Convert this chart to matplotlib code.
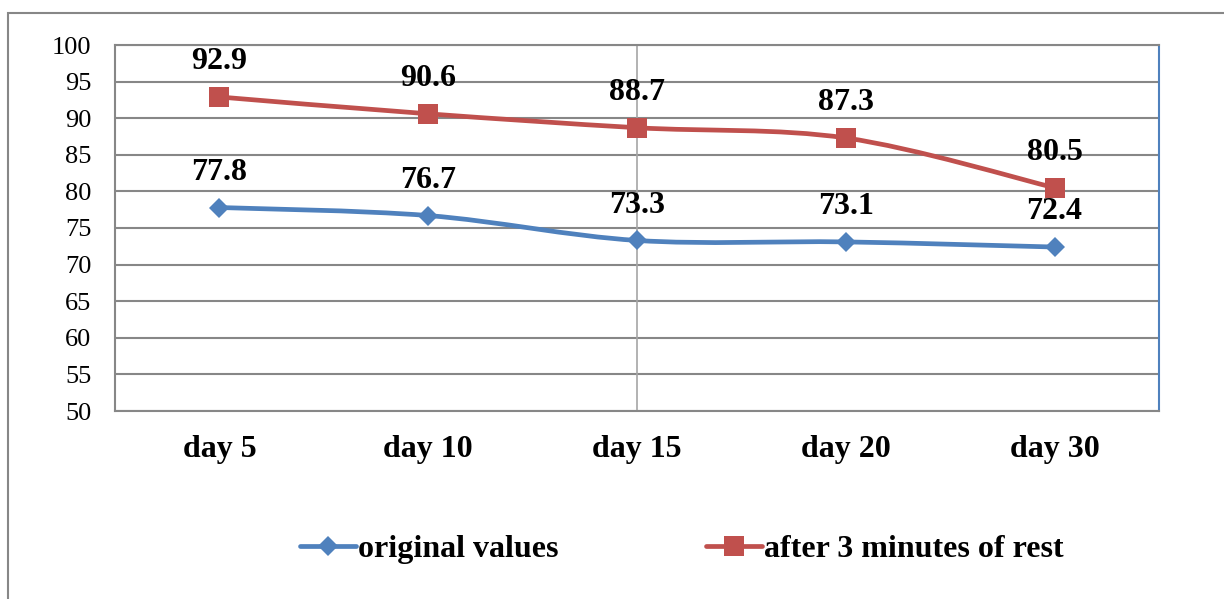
import numpy as np
import matplotlib
matplotlib.use("Agg")
import matplotlib.pyplot as plt
from matplotlib.path import Path
from matplotlib.patches import PathPatch, Rectangle
from matplotlib.lines import Line2D

# Data
categories = ["day 5", "day 10", "day 15", "day 20", "day 30"]
original_values = [77.8, 76.7, 73.3, 73.1, 72.4]
after_rest = [92.9, 90.6, 88.7, 87.3, 80.5]
series_names = ["original values", "after 3 minutes of rest"]
y_ticks = [50, 55, 60, 65, 70, 75, 80, 85, 90, 95, 100]

BLUE = "#4F81BD"
RED = "#C0504D"
GRID = "#878787"

plt.rcParams["font.family"] = ["Liberation Serif", "DejaVu Serif"]

fig = plt.figure(figsize=(12.24, 5.99), dpi=100)
ax = fig.add_axes([115 / 1224, 1 - 411 / 599, (1159 - 115) / 1224, (411 - 45) / 599])

x = np.arange(len(categories))


def smooth_path(xs, ys):
    """Cubic Bezier path through the points (Excel-style smoothed line)."""
    pts = np.column_stack([xs, ys]).astype(float)
    n = len(pts)
    verts = [pts[0]]
    codes = [Path.MOVETO]
    for i in range(n - 1):
        p0 = pts[i - 1] if i > 0 else pts[i]
        p1 = pts[i]
        p2 = pts[i + 1]
        p3 = pts[i + 2] if i + 2 < n else pts[i + 1]
        c1 = p1 + (p2 - p0) / 6.0
        c2 = p2 - (p3 - p1) / 6.0
        verts += [c1, c2, p2]
        codes += [Path.CURVE4] * 3
    return Path(verts, codes)


ax.set_xlim(-0.5, len(categories) - 0.5)
ax.set_ylim(50, 100)

# grid
for yv in y_ticks:
    ax.axhline(yv, color=GRID, lw=1.5, zorder=1)
ax.axvline(2, color="#A6A6A6", lw=1.2, zorder=1)

LW = 3.4
styles = [(original_values, BLUE, "D", 10.2), (after_rest, RED, "s", 14)]
for vals, color, marker, ms in styles:
    ax.add_patch(PathPatch(smooth_path(x, vals), fill=False, edgecolor=color,
                           lw=LW, capstyle="round", joinstyle="round", zorder=3))
    ax.plot(x, vals, linestyle="none", marker=marker, ms=ms, color=color,
            markeredgewidth=0, zorder=4)
    for xi, v in zip(x, vals):
        ax.annotate(f"{v:.1f}", (xi, v), xytext=(0, 20), textcoords="offset points",
                    ha="center", va="baseline", fontsize=23, fontweight="bold",
                    zorder=5)

ax.set_yticks(y_ticks)
ax.set_yticklabels([str(t) for t in y_ticks], fontsize=19)
ax.set_xticks(x)
ax.set_xticklabels(categories, fontsize=23, fontweight="bold")
ax.tick_params(axis="y", length=0, pad=17)
ax.tick_params(axis="x", length=0, pad=17)

for side in ["left", "bottom", "top"]:
    ax.spines[side].set_color(GRID)
    ax.spines[side].set_linewidth(1.5)
ax.spines["right"].set_color(BLUE)
ax.spines["right"].set_linewidth(1.5)

handles = [
    Line2D([], [], color=vals_color, lw=LW, marker=m, ms=ms, markeredgewidth=0,
           solid_capstyle="round")
    for (_, vals_color, m, ms) in styles
]
fig.legend(handles, series_names, loc="center", bbox_to_anchor=(0.557, 1 - 549 / 599),
           ncol=2, frameon=False, handlelength=1.75, handletextpad=0.08,
           columnspacing=4.6, numpoints=1,
           prop={"size": 23, "weight": "bold", "family": "Liberation Serif"})

# chart-area border
fig.add_artist(Rectangle((8 / 1224, -0.2), 1.5, 1.2 - 13 / 599,
                         transform=fig.transFigure, fill=False,
                         edgecolor=GRID, lw=1.5))

fig.savefig("out.png", dpi=100)
